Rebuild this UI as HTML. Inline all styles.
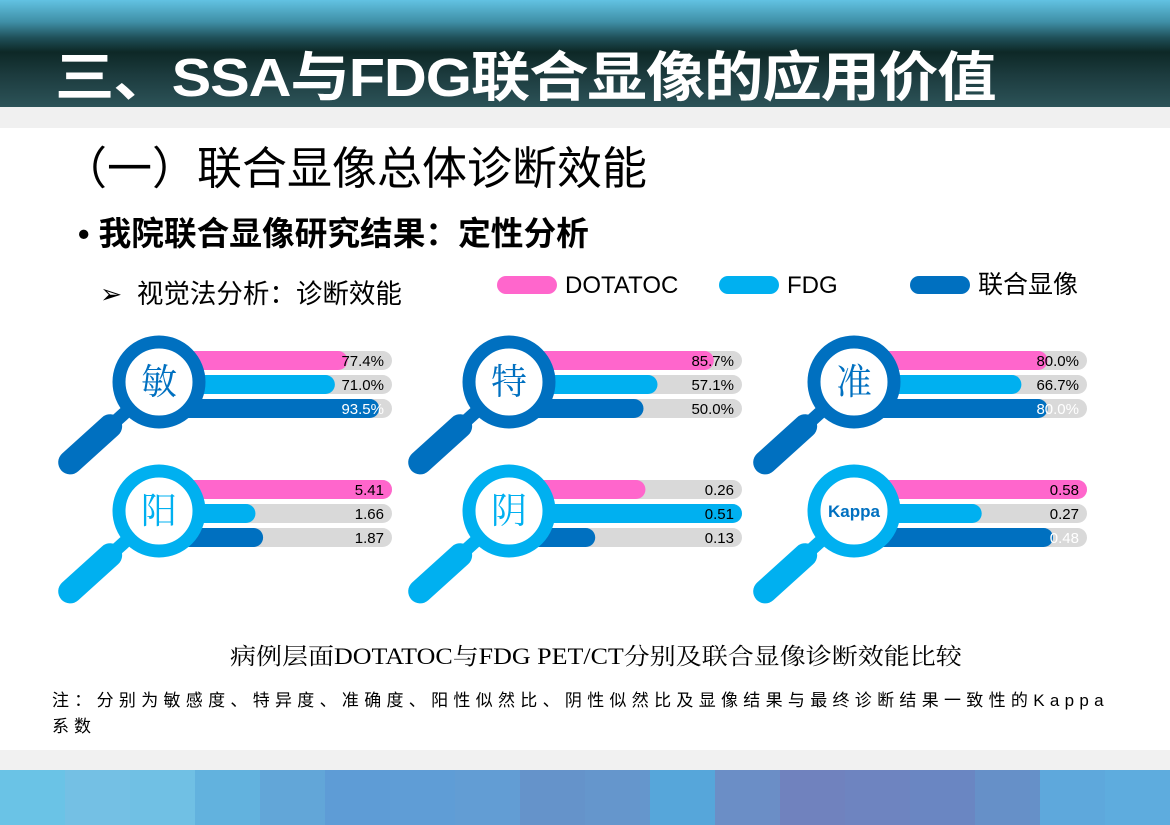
<!DOCTYPE html>
<html><head><meta charset="utf-8">
<style>
html,body{margin:0;padding:0;}
body{width:1170px;height:825px;position:relative;overflow:hidden;background:#fff;font-family:"Liberation Sans","Noto Sans CJK SC",sans-serif;}
#hdr{position:absolute;left:0;top:0;width:1170px;height:107px;background:linear-gradient(180deg,#62c2e2 0px,#3f8fa6 22px,#1f4f58 38px,#0d2826 52px,#1c3b3e 75px,#2c5358 107px);}
#title{position:absolute;left:55px;top:33px;font-size:54px;font-weight:bold;color:#fff;letter-spacing:-1px;white-space:nowrap;transform:scale(1.1,1.0);transform-origin:top left;}
#g1{position:absolute;left:0;top:107px;width:1170px;height:21px;background:#f0f0f0;}
#g2{position:absolute;left:0;top:750px;width:1170px;height:20px;background:#f1f1f1;}
#foot{position:absolute;left:0;top:770px;width:1170px;height:55px;display:flex;}
#foot div{height:55px;}
.t{position:absolute;white-space:nowrap;color:#000;}
</style></head><body>
<div id="hdr"></div>
<div id="title">三、SSA与FDG联合显像的应用价值</div>
<div id="g1"></div>
<div class="t" style="left:62px;top:132px;font-size:45px;">（一）联合显像总体诊断效能</div>
<div class="t" style="left:78px;top:208px;font-size:32.7px;font-weight:bold;">• 我院联合显像研究结果：定性分析</div>
<div class="t" style="left:100px;top:272px;font-size:26.5px;">➢&nbsp; 视觉法分析：诊断效能</div>

<svg id="chart" width="1170" height="825" style="position:absolute;left:0;top:0"></svg>

<div class="t" style="left:230px;top:638px;font-size:23px;font-family:'Liberation Serif','Noto Serif CJK SC',serif;transform:scaleX(1.13);transform-origin:left top;">病例层面DOTATOC与FDG PET/CT分别及联合显像诊断效能比较</div>
<div class="t" style="left:52px;top:686px;font-size:17px;font-family:'Liberation Sans','WenQuanYi Zen Hei',sans-serif;letter-spacing:5.3px;">注：分别为敏感度、特异度、准确度、阳性似然比、阴性似然比及显像结果与最终诊断结果一致性的Kappa</div>
<div class="t" style="left:52px;top:712px;font-size:17px;font-family:'Liberation Sans','WenQuanYi Zen Hei',sans-serif;letter-spacing:5px;">系数</div>
<div id="g2"></div>
<div id="foot"></div>

<script>
const panelLabels=["敏","特","准","阳","阴","Kappa"];
const seriesNames=["DOTATOC","FDG","联合显像"];
const dotatocVals=[77.4,85.7,80.0,5.41,0.26,0.58];
const fdgVals=[71.0,57.1,66.7,1.66,0.51,0.27];
const combinedVals=[93.5,50.0,80.0,1.87,0.13,0.48];
const valueLabels=[["77.4%","71.0%","93.5%"],["85.7%","57.1%","50.0%"],["80.0%","66.7%","80.0%"],["5.41","1.66","1.87"],["0.26","0.51","0.13"],["0.58","0.27","0.48"]];
const panelMax=[100,100,100,5.41,0.51,0.58];

const NS="http://www.w3.org/2000/svg";
const svg=document.getElementById('chart');
const colors=["#ff66cc","#00b0f0","#0070c0"];
function mk(tag,attrs,parent){const e=document.createElementNS(NS,tag);for(const k in attrs)e.setAttribute(k,attrs[k]);(parent||svg).appendChild(e);return e;}
const colX=[195,545,890], rowY=[351,480];
const barW=197, barH=19, gap=24;
function xScale(p,v){return barW*Math.min(v/panelMax[p],1);}

const legX=[497,719,910];
const legFs=[24,24,25];
seriesNames.forEach((n,i)=>{
  const r=mk('rect',{x:legX[i],y:276,width:60,height:18,rx:9,fill:colors[i]});
  
  
  const t=mk('text',{x:legX[i]+68,y:293,'font-size':legFs[i],'font-family':'Liberation Sans,Noto Sans CJK SC,sans-serif',fill:'#000'});
  t.textContent=n;
  
  
});

for(let p=0;p<6;p++){
  const col=p%3,row=Math.floor(p/3);
  const x0=colX[col],y0=rowY[row];
  const vals=[dotatocVals[p],fdgVals[p],combinedVals[p]];
  const g=mk('g',{});
  
  
  for(let s=0;s<3;s++){
    const y=y0+s*gap;
    const bg=mk('rect',{x:x0-20,y:y,width:barW+20,height:barH,rx:9.5,fill:'#d9d9d9'},g);
    
    
    const w=xScale(p,vals[s]);
    const b=mk('rect',{x:x0-20,y:y,width:w+20,height:barH,rx:9.5,fill:colors[s]},g);
    
    
    const frac=vals[s]/panelMax[p];
    const t=mk('text',{x:x0+barW-8,y:y+15,'text-anchor':'end','font-size':15,'font-family':'Liberation Sans,sans-serif',fill:(s===2&&frac>0.75&&frac<1)?'#fff':'#000'},g);
    t.textContent=valueLabels[p][s];
    
    
  }
  const mc=row===0?'#0070c0':'#00b0f0';
  const cx=x0-36, cy=y0+31;
  const dx=-0.74,dy=0.67;
  const neck=mk('line',{x1:cx+dx*44,y1:cy+dy*44,x2:cx+dx*58,y2:cy+dy*58,stroke:mc,'stroke-width':13},g);
  
  
  const h=mk('line',{x1:cx+dx*66,y1:cy+dy*66,x2:cx+dx*120,y2:cy+dy*120,stroke:mc,'stroke-width':24,'stroke-linecap':'round'},g);
  
  
  const c=mk('circle',{cx:cx,cy:cy,r:40,fill:'#fff',stroke:mc,'stroke-width':13},g);
  
  
  const isK=panelLabels[p]==='Kappa';
  const lt=mk('text',{x:cx,y:isK?cy+6:cy+12,'text-anchor':'middle','font-size':isK?17:36,'font-weight':isK?'bold':'normal','font-family':isK?'Liberation Sans,sans-serif':'Liberation Serif,Noto Serif CJK SC,serif',fill:mc==='#0070c0'||isK?'#0070c0':'#00b0f0'},g);
  lt.textContent=panelLabels[p];
  
  
}

const fc=["#6ac3e6","#74c0e4","#70c0e4","#62b2de","#62a6d8","#5e9cd6","#5f9dd6","#629dd4","#6593ca","#6596cc","#56a6da","#6b8ec6","#7082be","#6e84c0","#6a86c2","#6690c8","#5ea8dc","#5eacde"];
const fw=[65,65,65,65,65,65,65,65,65,65,65,65,65,65,65,65,65,65];
const foot=document.getElementById('foot');
fc.forEach((c,i)=>{const d=document.createElement('div');d.style.width=fw[i]+'px';d.style.background=c;


foot.appendChild(d);});
</script>
</body></html>
